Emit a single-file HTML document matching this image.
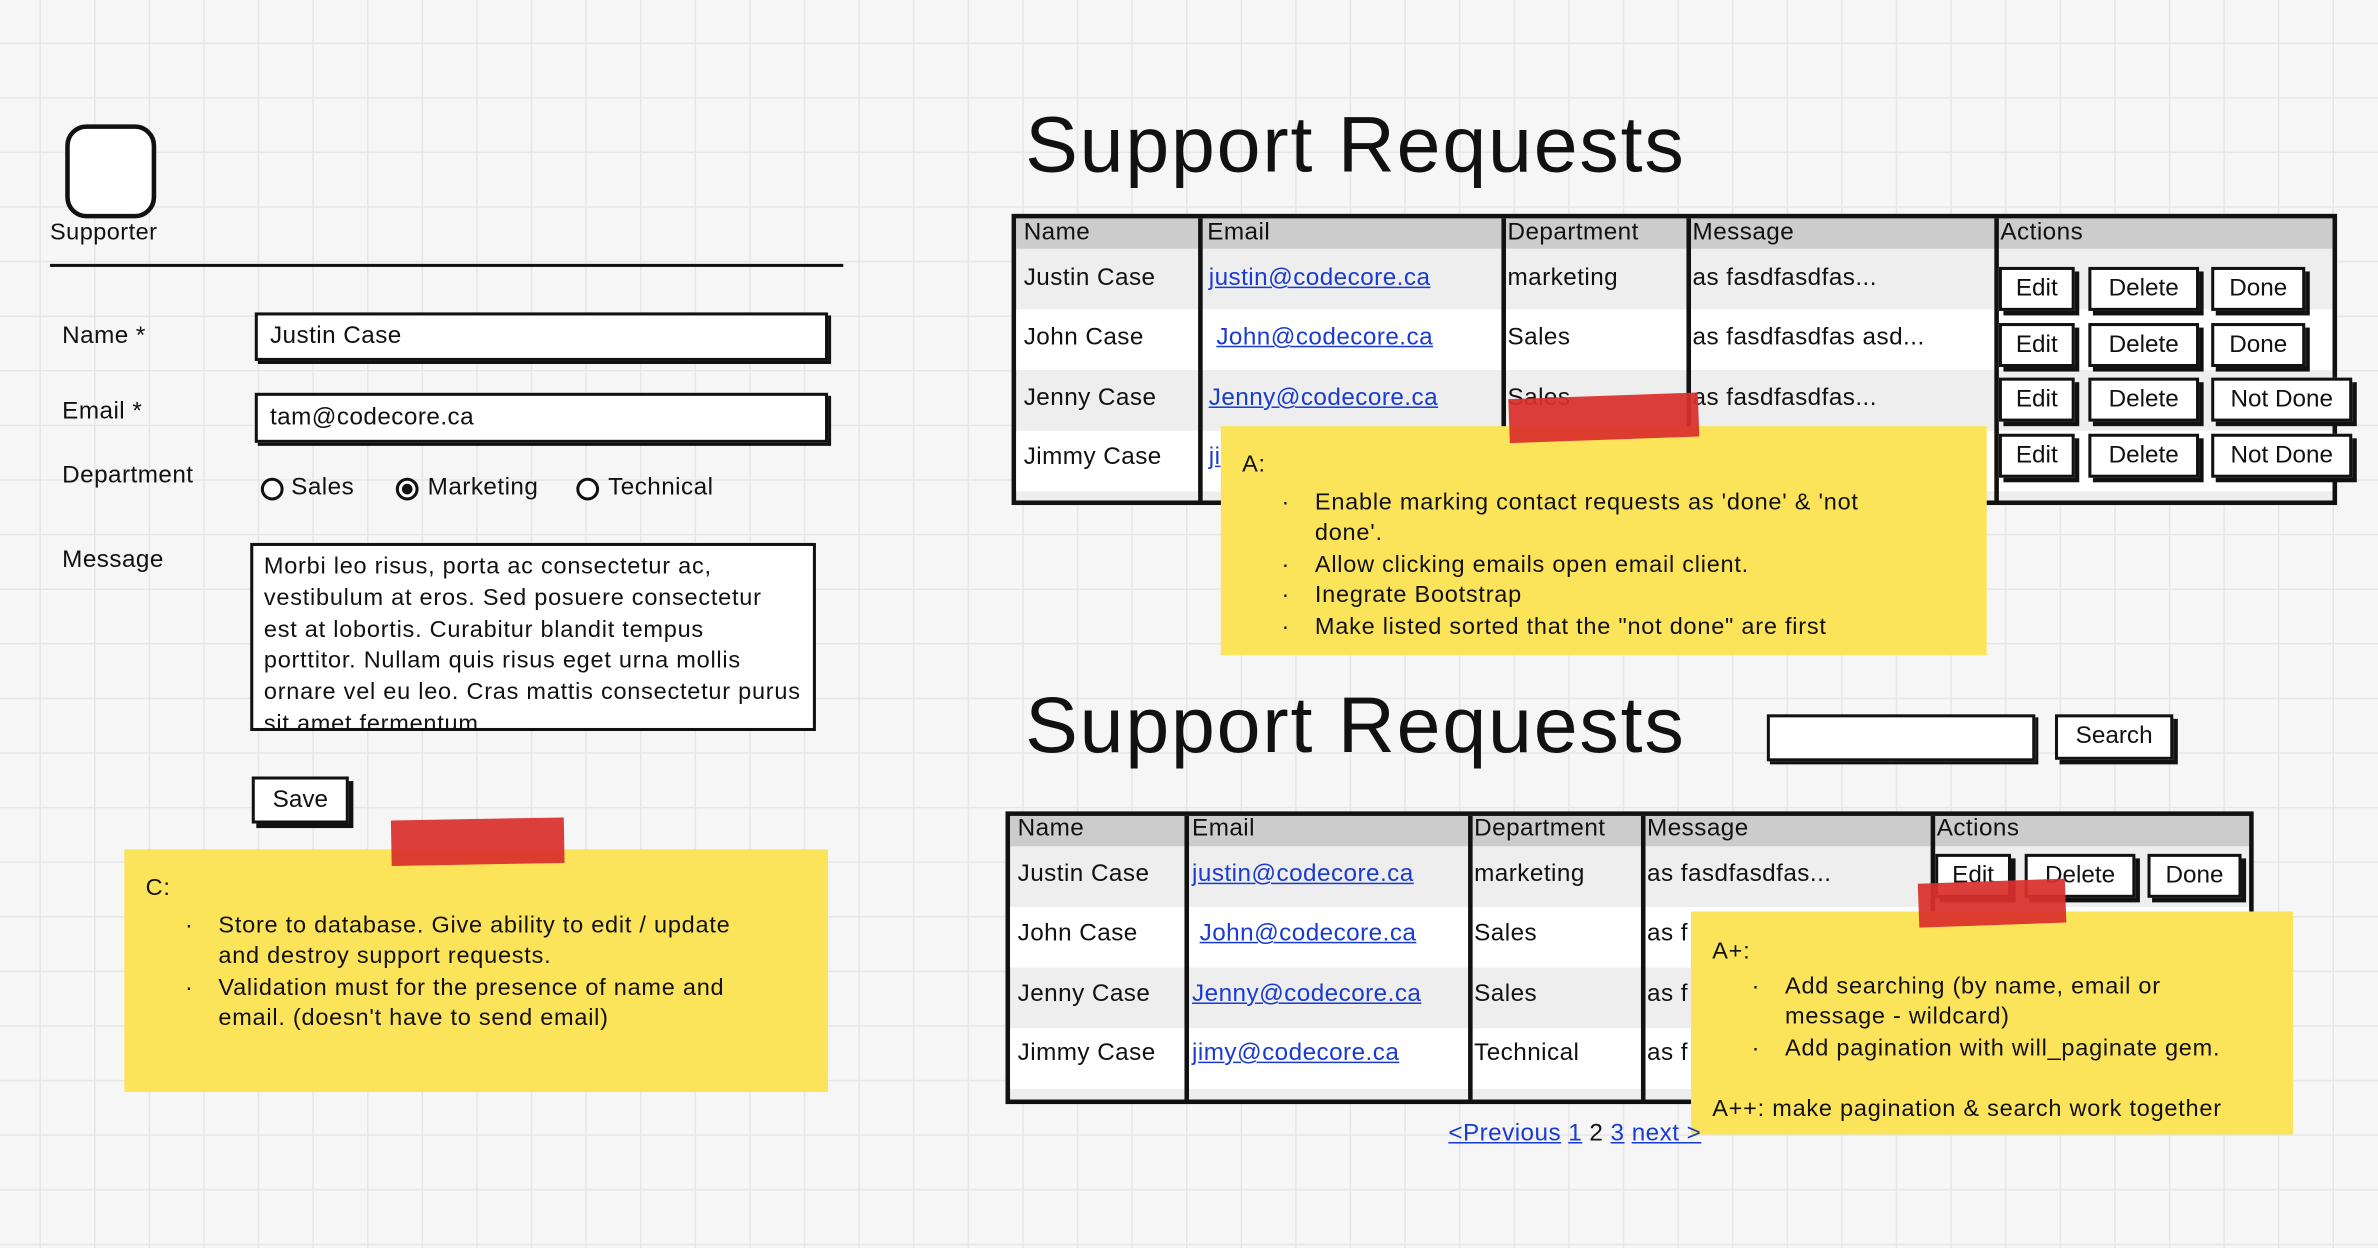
<!DOCTYPE html>
<html><head><meta charset="utf-8"><style>
html,body{margin:0;padding:0;width:2378px;height:1248px;overflow:hidden;background:#f5f5f5;}
#w{position:absolute;left:0;top:0;width:1568px;height:823px;transform:scale(1.5166);transform-origin:0 0;
background-color:#f6f6f6;
background-image:linear-gradient(#e6e6e6 1px,transparent 1px),linear-gradient(90deg,#e6e6e6 1px,transparent 1px);
background-size:36px 36px;background-position:-10px -8px;
font-family:"Liberation Sans",sans-serif;color:#111;font-size:16px;letter-spacing:0.3px;}
.a{position:absolute;}
.box{position:absolute;border:2.5px solid #111;background:#fff;box-sizing:border-box;}
.btn{position:absolute;border:2px solid #111;background:#fff;box-sizing:border-box;box-shadow:3px 3px 0 #111;text-align:center;font-size:16px;line-height:25px;letter-spacing:0;}
.t{white-space:nowrap;}
.note{position:absolute;background:#fce45a;box-sizing:border-box;font-size:15.5px;line-height:20.5px;}
.tape{position:absolute;background:#d9302c;opacity:.93;}
.lnk{color:#1a3bd0;text-decoration:underline;}
.title{position:absolute;font-size:52px;white-space:nowrap;letter-spacing:1.2px;}
.radio{position:absolute;width:11px;height:11px;border:2px solid #111;border-radius:50%;background:#fff;}
ul{margin:0;padding-left:48px;} li{list-style:none;position:relative;}
li:before{content:"·";position:absolute;left:-22px;}
</style></head><body><div id="w">
<div class="a" style="left:43px;top:82px;width:54px;height:56px;border:3px solid #111;border-radius:14px;background:#fff;"></div>
<div class="a t" style="left:33px;top:145px;font-size:15.5px;">Supporter</div>
<div class="a" style="left:33px;top:174px;width:523px;height:2px;background:#111;"></div>
<div class="a t" style="left:41px;top:213px;">Name *</div>
<div class="box" style="left:168px;top:206px;width:378px;height:32px;padding:3px 8px;line-height:22px;box-shadow:2px 2px 0 #111;">Justin Case</div>
<div class="a t" style="left:41px;top:263px;">Email *</div>
<div class="box" style="left:168px;top:259px;width:378px;height:33px;padding:3px 8px;line-height:24px;box-shadow:2px 2px 0 #111;">tam@codecore.ca</div>
<div class="a t" style="left:41px;top:305px;">Department</div>
<div class="radio" style="left:172px;top:315px;"></div><div class="a t" style="left:192px;top:313px;">Sales</div>
<div class="radio" style="left:261px;top:315px;"><div style="width:7px;height:7px;margin:2px;border-radius:50%;background:#111"></div></div><div class="a t" style="left:282px;top:313px;">Marketing</div>
<div class="radio" style="left:380px;top:315px;"></div><div class="a t" style="left:401px;top:313px;">Technical</div>
<div class="a t" style="left:41px;top:361px;">Message</div>
<div class="box" style="left:165px;top:358px;width:373px;height:124px;padding:4px 7px;overflow:hidden;line-height:20.8px;font-size:15.5px;letter-spacing:0.5px;">Morbi leo risus, porta ac consectetur ac, vestibulum at eros. Sed posuere consectetur est at lobortis. Curabitur blandit tempus porttitor. Nullam quis risus eget urna mollis ornare vel eu leo. Cras mattis consectetur purus sit amet fermentum.</div>
<div class="btn" style="left:166px;top:512px;width:64px;height:31px;line-height:27px;">Save</div>
<div class="note" style="left:82px;top:560px;width:464px;height:160px;padding:16px 14px;letter-spacing:0.5px;">C:<ul style="margin-top:4px;padding-right:30px"><li>Store to database. Give ability to edit / update and destroy support requests.</li><li>Validation must for the presence of name and email. (doesn't have to send email)</li></ul></div>
<div class="tape" style="left:258px;top:540px;width:114px;height:30px;transform:rotate(-1deg);"></div>

<div class="title" style="left:676px;top:66px;">Support Requests</div>
<div class="a" style="left:667px;top:141px;width:874px;height:192px;border:3px solid #111;box-sizing:border-box;background:#eee;overflow:hidden;">
 <div class="a" style="left:0;top:0;width:100%;height:20px;background:#ccc;"></div>
 <div class="a" style="left:0;top:60px;width:100%;height:40px;background:#fff;"></div>
 <div class="a" style="left:0;top:140px;width:100%;height:40px;background:#fff;"></div>
 <div class="a" style="left:120px;top:0;width:2.5px;height:100%;background:#111;"></div>
 <div class="a" style="left:320px;top:0;width:2.5px;height:100%;background:#111;"></div>
 <div class="a" style="left:442px;top:0;width:2.5px;height:100%;background:#111;"></div>
 <div class="a" style="left:645px;top:0;width:2.5px;height:100%;background:#111;"></div>
</div>
<div class="a t" style="left:675px;top:145px;">Name</div><div class="a t" style="left:796px;top:145px;">Email</div><div class="a t" style="left:994px;top:145px;">Department</div><div class="a t" style="left:1116px;top:145px;">Message</div><div class="a t" style="left:1319px;top:145px;">Actions</div>
<div class="a t" style="left:675px;top:175px;">Justin Case</div><div class="a t lnk" style="left:797px;top:175px;">justin@codecore.ca</div><div class="a t" style="left:994px;top:175px;">marketing</div><div class="a t" style="left:1116px;top:175px;">as fasdfasdfas...</div>
<div class="a t" style="left:675px;top:214px;">John Case</div><div class="a t lnk" style="left:802px;top:214px;">John@codecore.ca</div><div class="a t" style="left:994px;top:214px;">Sales</div><div class="a t" style="left:1116px;top:214px;">as fasdfasdfas asd...</div>
<div class="a t" style="left:675px;top:254px;">Jenny Case</div><div class="a t lnk" style="left:797px;top:254px;">Jenny@codecore.ca</div><div class="a t" style="left:994px;top:254px;">Sales</div><div class="a t" style="left:1116px;top:254px;">as fasdfasdfas...</div>
<div class="a t" style="left:675px;top:293px;">Jimmy Case</div><div class="a t lnk" style="left:797px;top:293px;">ji</div>
<div class="btn" style="left:1318px;top:176px;width:50px;height:29px;">Edit</div><div class="btn" style="left:1377px;top:176px;width:73px;height:29px;">Delete</div><div class="btn" style="left:1458px;top:176px;width:62px;height:29px;">Done</div>
<div class="btn" style="left:1318px;top:213px;width:50px;height:29px;">Edit</div><div class="btn" style="left:1377px;top:213px;width:73px;height:29px;">Delete</div><div class="btn" style="left:1458px;top:213px;width:62px;height:29px;">Done</div>
<div class="btn" style="left:1318px;top:249px;width:50px;height:29px;">Edit</div><div class="btn" style="left:1377px;top:249px;width:73px;height:29px;">Delete</div><div class="btn" style="left:1458px;top:249px;width:93px;height:29px;">Not Done</div>
<div class="btn" style="left:1318px;top:286px;width:50px;height:29px;">Edit</div><div class="btn" style="left:1377px;top:286px;width:73px;height:29px;">Delete</div><div class="btn" style="left:1458px;top:286px;width:93px;height:29px;">Not Done</div>
<div class="note" style="left:805px;top:281px;width:505px;height:151px;padding:16px 14px;letter-spacing:0.5px;">A:<ul style="margin-top:4px;padding-right:40px"><li>Enable marking contact requests as 'done' &amp; 'not done'.</li><li>Allow clicking emails open email client.</li><li>Inegrate Bootstrap</li><li>Make listed sorted that the "not done" are first</li></ul></div>
<div class="tape" style="left:995px;top:261px;width:125px;height:29px;transform:rotate(-2deg);"></div>

<div class="title" style="left:676px;top:449px;">Support Requests</div>
<div class="box" style="left:1165px;top:471px;width:177px;height:31px;box-shadow:2px 2px 0 #111;"></div>
<div class="btn" style="left:1355px;top:471px;width:78px;height:30px;">Search</div>
<div class="a" style="left:663px;top:535px;width:823px;height:193px;border:3px solid #111;box-sizing:border-box;background:#eee;overflow:hidden;">
 <div class="a" style="left:0;top:0;width:100%;height:20px;background:#ccc;"></div>
 <div class="a" style="left:0;top:60px;width:100%;height:40px;background:#fff;"></div>
 <div class="a" style="left:0;top:140px;width:100%;height:40px;background:#fff;"></div>
 <div class="a" style="left:115px;top:0;width:2.5px;height:100%;background:#111;"></div>
 <div class="a" style="left:302px;top:0;width:2.5px;height:100%;background:#111;"></div>
 <div class="a" style="left:416px;top:0;width:2.5px;height:100%;background:#111;"></div>
 <div class="a" style="left:607px;top:0;width:2.5px;height:100%;background:#111;"></div>
</div>
<div class="a t" style="left:671px;top:538px;">Name</div><div class="a t" style="left:786px;top:538px;">Email</div><div class="a t" style="left:972px;top:538px;">Department</div><div class="a t" style="left:1086px;top:538px;">Message</div><div class="a t" style="left:1277px;top:538px;">Actions</div>
<div class="a t" style="left:671px;top:568px;">Justin Case</div><div class="a t lnk" style="left:786px;top:568px;">justin@codecore.ca</div><div class="a t" style="left:972px;top:568px;">marketing</div><div class="a t" style="left:1086px;top:568px;">as fasdfasdfas...</div>
<div class="a t" style="left:671px;top:607px;">John Case</div><div class="a t lnk" style="left:791px;top:607px;">John@codecore.ca</div><div class="a t" style="left:972px;top:607px;">Sales</div><div class="a t" style="left:1086px;top:607px;">as f</div>
<div class="a t" style="left:671px;top:647px;">Jenny Case</div><div class="a t lnk" style="left:786px;top:647px;">Jenny@codecore.ca</div><div class="a t" style="left:972px;top:647px;">Sales</div><div class="a t" style="left:1086px;top:647px;">as f</div>
<div class="a t" style="left:671px;top:686px;">Jimmy Case</div><div class="a t lnk" style="left:786px;top:686px;">jimy@codecore.ca</div><div class="a t" style="left:972px;top:686px;">Technical</div><div class="a t" style="left:1086px;top:686px;">as f</div>
<div class="btn" style="left:1276px;top:563px;width:50px;height:29px;">Edit</div><div class="btn" style="left:1335px;top:563px;width:73px;height:29px;">Delete</div><div class="btn" style="left:1416px;top:563px;width:62px;height:29px;">Done</div>
<div class="note" style="left:1115px;top:601px;width:397px;height:147px;padding:17px 14px;letter-spacing:0.5px;">A+:<ul style="margin-top:2px;padding-right:20px"><li>Add searching (by name, email or message - wildcard)</li><li>Add pagination with will_paginate gem.</li></ul><div style="margin-top:20px">A++: make pagination &amp; search work together</div></div>
<div class="tape" style="left:1265px;top:581px;width:97px;height:29px;transform:rotate(-2deg);"></div>
<div class="a t" style="left:955px;top:739px;"><span class="lnk">&lt;Previous</span> <span class="lnk">1</span> 2 <span class="lnk">3</span> <span class="lnk">next &gt;</span></div>
</div></body></html>
